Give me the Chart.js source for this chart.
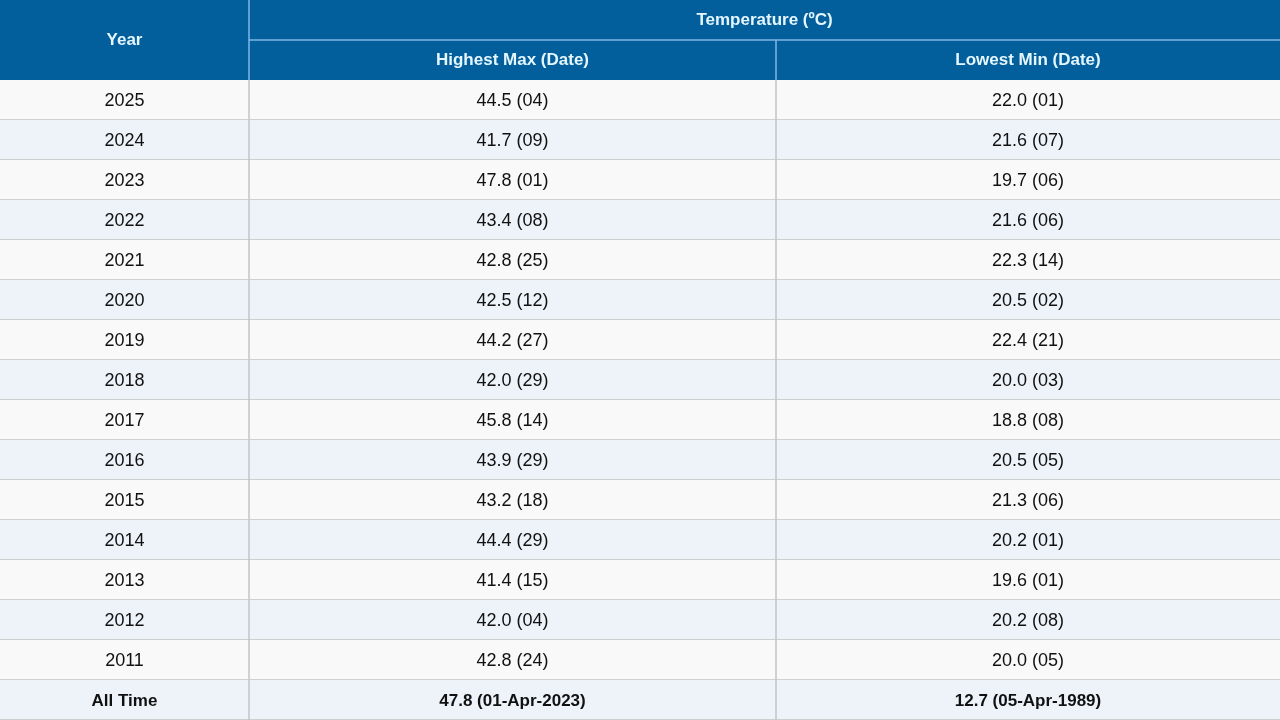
<!DOCTYPE html>
<html>
<head>
<meta charset="utf-8">
<script src="https://cdn.jsdelivr.net/npm/chart.js@4.4.1/dist/chart.umd.min.js"></script>
<style>
  html, body { margin: 0; padding: 0; background: #fff; }
  #wrap { width: 1280px; height: 720px; }
</style>
</head>
<body>
<div id="wrap"><canvas id="tabla"></canvas></div>
<script>
// datos de la tabla
const years = ['2025', '2024', '2023', '2022', '2021', '2020', '2019', '2018', '2017', '2016', '2015', '2014', '2013', '2012', '2011'];
const highestMax = ['44.5 (04)', '41.7 (09)', '47.8 (01)', '43.4 (08)', '42.8 (25)', '42.5 (12)', '44.2 (27)', '42.0 (29)', '45.8 (14)', '43.9 (29)', '43.2 (18)', '44.4 (29)', '41.4 (15)', '42.0 (04)', '42.8 (24)'];
const lowestMin = ['22.0 (01)', '21.6 (07)', '19.7 (06)', '21.6 (06)', '22.3 (14)', '20.5 (02)', '22.4 (21)', '20.0 (03)', '18.8 (08)', '20.5 (05)', '21.3 (06)', '20.2 (01)', '19.6 (01)', '20.2 (08)', '20.0 (05)'];
const allTime = ['All Time', '47.8 (01-Apr-2023)', '12.7 (05-Apr-1989)'];
const headers = ['Year', 'Highest Max (Date)', 'Lowest Min (Date)'];
const groupHeader = 'Temperature (ºC)';

// filas: 2 de cabecera + años + total
const rowLabels = ['h1', 'h2', ...years, 'All Time'];
// bordes de columnas en unidades del eje x
const colEdges = [0, 249, 776, 1280];

const tablePlugin = {
  id: 'tabla',
  beforeDraw(chart) {
    const ctx = chart.ctx;
    const x = chart.scales.x, y = chart.scales.y;
    const X = v => x.getPixelForValue(v);
    const rowTop = i => y.getPixelForValue(i) - y.height / rowLabels.length / 2;
    const rowBot = i => y.getPixelForValue(i) + y.height / rowLabels.length / 2;
    const colMid = c => (X(colEdges[c]) + X(colEdges[c + 1])) / 2;

    ctx.save();
    // cabecera
    ctx.fillStyle = '#025f9c';
    ctx.fillRect(X(0), rowTop(0), X(1280) - X(0), rowBot(1) - rowTop(0));
    ctx.strokeStyle = '#7fb8e6';
    ctx.lineWidth = 1.5;
    ctx.beginPath();
    ctx.moveTo(X(colEdges[1]), rowTop(0)); ctx.lineTo(X(colEdges[1]), rowBot(1));
    ctx.moveTo(X(colEdges[2]), rowTop(1)); ctx.lineTo(X(colEdges[2]), rowBot(1));
    ctx.moveTo(X(colEdges[1]), rowBot(0)); ctx.lineTo(X(1280), rowBot(0));
    ctx.stroke();

    ctx.fillStyle = '#e4f6ff';
    ctx.font = 'bold 17px "Liberation Sans", Arial, sans-serif';
    ctx.textAlign = 'center';
    ctx.textBaseline = 'middle';
    ctx.fillText(headers[0], colMid(0), rowBot(0));
    ctx.fillText(groupHeader, (X(colEdges[1]) + X(colEdges[3])) / 2, y.getPixelForValue(0));
    ctx.fillText(headers[1], colMid(1), y.getPixelForValue(1));
    ctx.fillText(headers[2], colMid(2), y.getPixelForValue(1));

    // cuerpo
    const body = years.map((yr, i) => [yr, highestMax[i], lowestMin[i]]);
    body.push(allTime);
    body.forEach((row, i) => {
      const r = i + 2;
      ctx.fillStyle = i % 2 === 0 ? '#f9f9f9' : '#eef3f9';
      ctx.fillRect(X(0), rowTop(r), X(1280) - X(0), rowBot(r) - rowTop(r));
      ctx.strokeStyle = '#c4c4c4';
      ctx.lineWidth = 1.5;
      ctx.beginPath();
      ctx.moveTo(X(0), rowBot(r)); ctx.lineTo(X(1280), rowBot(r));
      ctx.moveTo(X(colEdges[1]), rowTop(r)); ctx.lineTo(X(colEdges[1]), rowBot(r));
      ctx.moveTo(X(colEdges[2]), rowTop(r)); ctx.lineTo(X(colEdges[2]), rowBot(r));
      ctx.stroke();
      const last = i === body.length - 1;
      ctx.fillStyle = '#111';
      ctx.font = (last ? 'bold 17px' : '18px') + ' "Liberation Sans", Arial, sans-serif';
      row.forEach((txt, c) => ctx.fillText(txt, colMid(c), y.getPixelForValue(r) + 1));
    });
    ctx.restore();
  }
};

new Chart(document.getElementById('tabla'), {
  type: 'bar',
  data: {
    labels: rowLabels,
    datasets: [{ label: 'tabla', data: rowLabels.map(() => null) }]
  },
  options: {
    indexAxis: 'y',
    responsive: true,
    maintainAspectRatio: false,
    animation: false,
    layout: { padding: 0 },
    scales: {
      x: { type: 'linear', min: 0, max: 1280, display: false },
      y: { type: 'category', display: false, offset: true }
    },
    plugins: { legend: { display: false }, tooltip: { enabled: false } }
  },
  plugins: [tablePlugin]
});
</script>
</body>
</html>
